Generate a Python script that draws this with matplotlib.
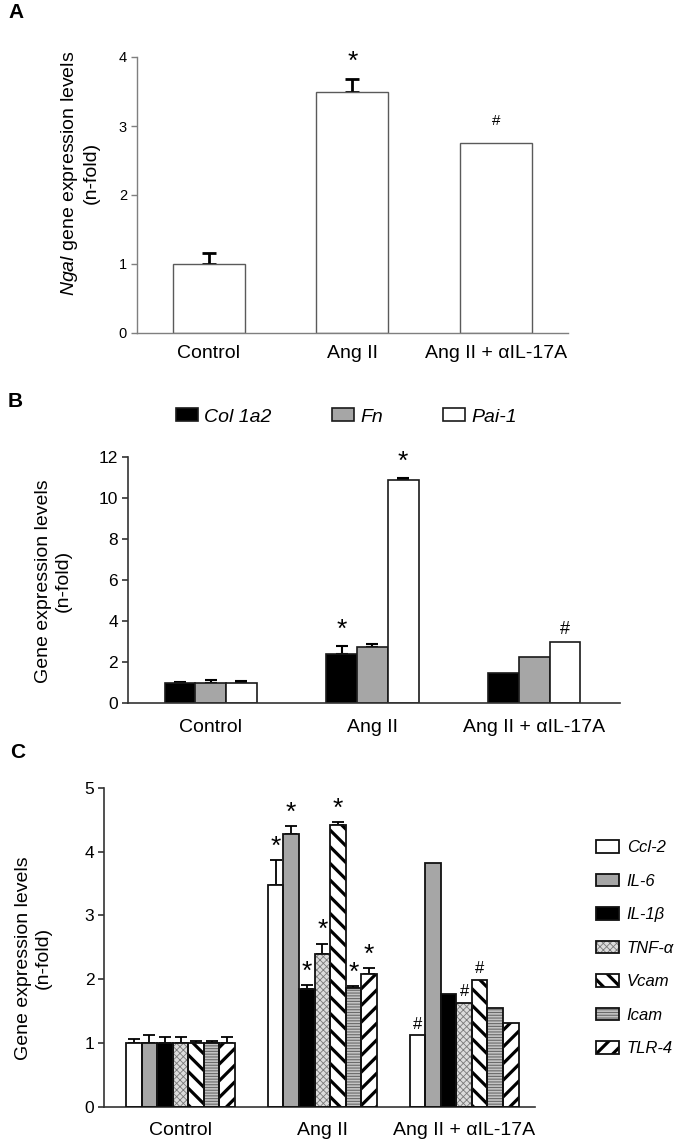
import numpy as np
import matplotlib
matplotlib.use("Agg")
import matplotlib.pyplot as plt
from matplotlib.patches import Rectangle
from matplotlib.legend_handler import HandlerTuple

plt.rcParams['font.family'] = ['Liberation Sans', 'DejaVu Sans']
plt.rcParams['mathtext.fontset'] = 'custom'
plt.rcParams['mathtext.rm'] = 'Liberation Sans'
plt.rcParams['mathtext.it'] = 'Liberation Sans:italic'

groups = ['Control', 'Ang II', 'Ang II + \u03b1IL-17A']

# panel A - Ngal
ngal_mean = [1.0, 3.50, 2.75]
ngal_err = [0.155, 0.18, 0.0]
ngal_marks = ['', '*', '#']

# panel B - fibrosis markers
b_genes = ['Col 1a2', 'Fn', 'Pai-1']
col1a2_mean = [1.0, 2.40, 1.46]
fn_mean = [1.0, 2.72, 2.24]
pai1_mean = [1.0, 10.87, 3.00]
col1a2_err = [0.05, 0.40, 0.0]
fn_err = [0.13, 0.15, 0.0]
pai1_err = [0.08, 0.08, 0.0]
b_marks = [['', '', ''], ['*', '', '*'], ['', '', '#']]

# panel C - inflammation markers
c_genes = ['Ccl-2', 'IL-6', 'IL-1\u03b2', 'TNF-\u03b1', 'Vcam', 'Icam', 'TLR-4']
ccl2_mean = [1.0, 3.48, 1.12]
il6_mean = [1.0, 4.28, 3.82]
il1b_mean = [1.0, 1.84, 1.77]
tnfa_mean = [1.0, 2.40, 1.63]
vcam_mean = [1.0, 4.42, 1.99]
icam_mean = [1.0, 1.87, 1.55]
tlr4_mean = [1.0, 2.09, 1.31]
ccl2_err = [0.07, 0.39, 0.0]
il6_err = [0.13, 0.12, 0.0]
il1b_err = [0.09, 0.07, 0.0]
tnfa_err = [0.09, 0.16, 0.0]
vcam_err = [0.04, 0.04, 0.0]
icam_err = [0.04, 0.02, 0.0]
tlr4_err = [0.10, 0.09, 0.0]
c_marks = [['', '', '', '', '', '', ''],
           ['*', '*', '*', '*', '*', '*', '*'],
           ['#', '', '', '#', '#', '', '']]

W, H = 677, 1142
fig = plt.figure(figsize=(W / 100, H / 100), dpi=100)


def rect(left, right, top, bottom):
    return [left / W, 1 - bottom / H, (right - left) / W, (bottom - top) / H]


def style_axis(ax, spine_color, lw, ticksize):
    ax.spines['top'].set_visible(False)
    ax.spines['right'].set_visible(False)
    ax.spines['left'].set_color(spine_color)
    ax.spines['bottom'].set_color(spine_color)
    ax.spines['left'].set_linewidth(lw)
    ax.spines['bottom'].set_linewidth(lw)
    ax.tick_params(axis='y', direction='out', length=4, width=lw, color=spine_color,
                   labelsize=ticksize, pad=3)
    ax.tick_params(axis='x', length=0, labelsize=14, pad=9)


def up_err(ax, xs, ys, errs, lw, cap):
    xs, ys, errs = np.array(xs), np.array(ys), np.array(errs)
    m = errs > 0
    if m.any():
        ax.errorbar(xs[m], ys[m], yerr=[np.zeros(m.sum()), errs[m]], fmt='none',
                    ecolor='black', elinewidth=lw, capsize=cap, capthick=lw, zorder=1)


x = np.arange(len(groups))

# ---------------- A ----------------
axA = fig.add_axes(rect(136.7, 568, 57, 333))
axA.bar(x, ngal_mean, 0.5, color='white', edgecolor='#5a5a5a', linewidth=1.0, zorder=2)
up_err(axA, x, ngal_mean, ngal_err, 2.0, 5)
for i, mk in enumerate(ngal_marks):
    if mk:
        top = ngal_mean[i] + ngal_err[i]
        if mk == '*':
            axA.text(x[i], top + 0.07, mk, ha='center', va='bottom', fontsize=19)
        else:
            axA.text(x[i], top + 0.22, mk, ha='center', va='bottom', fontsize=11)
axA.set_xlim(-0.5, 2.5)
axA.set_ylim(0, 4)
axA.set_yticks([0, 1, 2, 3, 4])
axA.set_xticks(x)
axA.set_xticklabels(groups)
style_axis(axA, '#7f7f7f', 1.0, 10.5)
fig.text(79 / W, 1 - 173 / H, r'$\mathit{Ngal}$ gene expression levels' + '\n(n-fold)',
         rotation=90, ha='center', va='center', fontsize=14, multialignment='center')
fig.text(8 / W, 1 - 12 / H, 'A', fontsize=15, fontweight='bold', ha='left', va='center')

# ---------------- B ----------------
axB = fig.add_axes(rect(127.7, 620, 456.7, 703.3))
wB = 0.19
b_means = [col1a2_mean, fn_mean, pai1_mean]
b_errs = [col1a2_err, fn_err, pai1_err]
b_colors = ['black', '#a6a6a6', 'white']
b_handles = []
for j in range(3):
    xs = x + (j - 1) * wB
    bc = axB.bar(xs, b_means[j], wB, color=b_colors[j], edgecolor='#1a1a1a',
                 linewidth=1.2, zorder=2, label=b_genes[j])
    b_handles.append(bc)
    up_err(axB, xs, b_means[j], b_errs[j], 1.5, 4)
    for i in range(3):
        mk = b_marks[i][j]
        if mk:
            top = b_means[j][i] + b_errs[j][i]
            axB.text(xs[i], top + 0.2, mk, ha='center', va='bottom',
                     fontsize=19 if mk == '*' else 13)
axB.set_xlim(-0.513, 2.53)
axB.set_ylim(0, 12)
axB.set_yticks(np.arange(0, 13, 2))
axB.set_xticks(x)
axB.set_xticklabels(groups)
style_axis(axB, '#333333', 1.2, 12.5)
axB.tick_params(axis='x', pad=11)
fig.text(53 / W, 1 - 581 / H, 'Gene expression levels\n(n-fold)', rotation=90,
         ha='center', va='center', fontsize=14, multialignment='center')
fig.text(8 / W, 1 - 402 / H, 'B', fontsize=15, fontweight='bold', ha='left', va='center')
legB = fig.legend(b_handles, b_genes, loc='center left',
                  bbox_to_anchor=(176 / W, 1 - 417 / H), ncol=3, frameon=False,
                  prop={'style': 'italic', 'size': 14}, handlelength=1.15,
                  handleheight=0.65, handletextpad=0.3, columnspacing=3.1,
                  borderpad=0, borderaxespad=0)

# ---------------- C ----------------
axC = fig.add_axes(rect(104, 535, 787.7, 1107))
wC = 0.1097
c_means = [ccl2_mean, il6_mean, il1b_mean, tnfa_mean, vcam_mean, icam_mean, tlr4_mean]
c_errs = [ccl2_err, il6_err, il1b_err, tnfa_err, vcam_err, icam_err, tlr4_err]
c_face = ['white', '#a6a6a6', 'black', '#dcdcdc', 'white', '#c4c4c4', 'white']
c_hatch = [None, None, None, 'xxxxx', '\\\\', '------', '//']
c_hcol = ['black', 'black', 'black', '#7a7a7a', 'black', '#6a6a6a', 'black']
c_hlw = [1.0, 1.0, 1.0, 0.6, 2.3, 0.8, 2.3]
hatch_lw = {h: lw for h, lw in zip(c_hatch, c_hlw) if h}
c_handles = []
for j in range(7):
    xs = x + (j - 3) * wC
    plt.rcParams['hatch.linewidth'] = c_hlw[j]
    plt.rcParams['hatch.color'] = c_hcol[j]
    fill = axC.bar(xs, c_means[j], wC, color=c_face[j], edgecolor=c_hcol[j],
                   hatch=c_hatch[j], linewidth=0, zorder=2)
    for p in fill.patches:
        if hasattr(p, 'set_hatch_linewidth'):
            p.set_hatch_linewidth(c_hlw[j])
    outline = axC.bar(xs, c_means[j], wC, fill=False, edgecolor='#111111',
                      linewidth=1.3, zorder=3)
    c_handles.append((fill.patches[0], outline.patches[0]))
    up_err(axC, xs, c_means[j], c_errs[j], 1.3, 4)
    for i in range(3):
        mk = c_marks[i][j]
        if mk:
            top = c_means[j][i] + c_errs[j][i]
            if mk == '*':
                axC.text(xs[i], top + 0.02, mk, ha='center', va='bottom', fontsize=19)
            else:
                axC.text(xs[i], top + 0.06, mk, ha='center', va='bottom', fontsize=12)
axC.set_xlim(-0.54, 2.5)
axC.set_ylim(0, 5)
axC.set_yticks([0, 1, 2, 3, 4, 5])
axC.set_xticks(x)
axC.set_xticklabels(groups)
style_axis(axC, '#333333', 1.2, 12.5)
axC.tick_params(axis='x', pad=11)
fig.text(33 / W, 1 - 958 / H, 'Gene expression levels\n(n-fold)', rotation=90,
         ha='center', va='center', fontsize=14, multialignment='center')
fig.text(10 / W, 1 - 753 / H, 'C', fontsize=15, fontweight='bold', ha='left', va='center')
legC = fig.legend(c_handles, c_genes, loc='upper left',
                  bbox_to_anchor=(596 / W, 1 - 840 / H), frameon=False,
                  prop={'style': 'italic', 'size': 12}, handlelength=1.4,
                  handleheight=0.8, handletextpad=0.45, labelspacing=1.1,
                  borderpad=0, borderaxespad=0,
                  handler_map={tuple: HandlerTuple(ndivide=1)})
# legend copies of the hatched patches take the last rc hatch width, reset them
for p in legC.findobj(Rectangle):
    h = p.get_hatch()
    if h in hatch_lw and hasattr(p, 'set_hatch_linewidth'):
        p.set_hatch_linewidth(hatch_lw[h])

fig.savefig('out.png', dpi=100)
